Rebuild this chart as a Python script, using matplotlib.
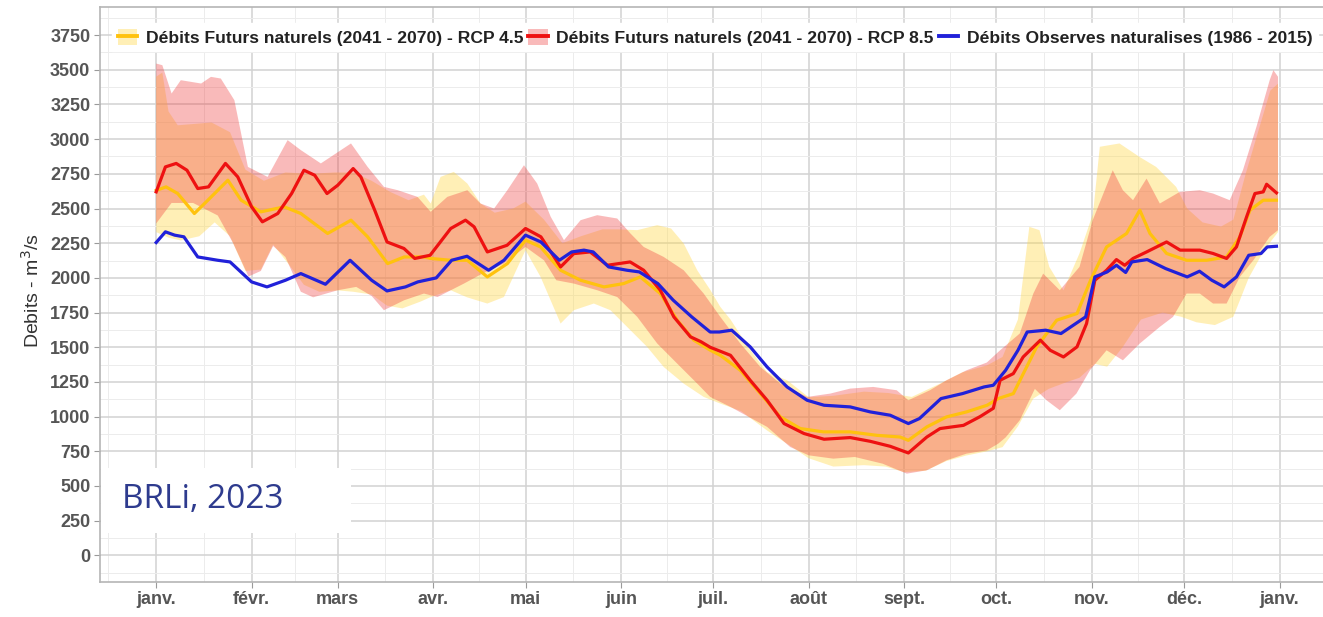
import matplotlib
matplotlib.use("Agg")
import matplotlib.pyplot as plt
from matplotlib.lines import Line2D
from matplotlib.patches import Patch, Rectangle
import numpy as np

# day of year (0 = 1er janvier) -> debit en m3/s
obs_days = [0, 3, 6, 9, 13.5, 20, 24, 31, 36, 42, 47, 55, 63, 70, 75, 81, 85, 91,
            96, 101, 108, 113, 120, 125, 131, 135, 139, 142, 147, 153, 157, 163,
            168, 174, 180, 183, 187, 193, 198.5, 205, 211.5, 217, 225.5, 232,
            238.5, 244.4, 248, 255, 262, 269, 272, 276, 280, 283, 289, 294, 298,
            302, 305, 309, 312, 315, 317, 322, 328, 335, 339, 343, 347, 351, 355,
            359, 361, 364]
obs_vals = [2255, 2332, 2308, 2296, 2151, 2127, 2115, 1971, 1935, 1983, 2031, 1954,
            2127, 1983, 1906, 1935, 1971, 2000, 2127, 2156, 2055, 2127, 2308, 2259,
            2127, 2187, 2200, 2187, 2079, 2055, 2043, 1959, 1839, 1719, 1610, 1610,
            1623, 1503, 1358, 1214, 1118, 1082, 1070, 1034, 1010, 950, 986, 1130,
            1166, 1214, 1226, 1334, 1478, 1610, 1623, 1599, 1659, 1719, 2007, 2043,
            2091, 2039, 2115, 2132, 2067, 2007, 2048, 1983, 1935, 2007, 2163, 2176,
            2223, 2228]

rcp85_days = [0, 3, 6.5, 10, 13.5, 17, 22.5, 26.5, 31, 34.5, 39.5, 44, 48, 51.5,
              55.5, 59, 64, 66.5, 71, 75, 80.5, 84, 89, 95.7, 100.5, 103.3, 107.6,
              114, 120, 125, 131.4, 135.7, 141, 146.6, 154, 158.4, 163.8, 168.2,
              173.6, 177, 180, 186.6, 193, 198.5, 204, 210.5, 217, 225.5, 232,
              238.5, 244.4, 250.4, 254.7, 262.3, 267.7, 272, 274.2, 278.5, 281.7,
              287.3, 290.5, 294.8, 299.2, 302.3, 305, 308.8, 312, 314.7, 317.4,
              321.8, 328.3, 332.7, 339.1, 343.4, 347.8, 351, 354.3, 357, 359.7,
              360.8, 364]
rcp85_vals = [2620, 2800, 2825, 2776, 2644, 2656, 2825, 2728, 2512, 2404, 2464, 2608,
              2776, 2740, 2608, 2668, 2788, 2728, 2488, 2259, 2212, 2140, 2163, 2356,
              2416, 2368, 2187, 2235, 2356, 2296, 2079, 2175, 2187, 2091, 2115, 2055,
              1911, 1719, 1575, 1540, 1500, 1442, 1262, 1118, 950, 878, 837, 849, 822,
              786, 738, 853, 914, 937, 1000, 1060, 1262, 1310, 1430, 1551, 1478, 1430,
              1503, 1671, 1983, 2055, 2132, 2091, 2140, 2187, 2259, 2200, 2200, 2176,
              2140, 2223, 2440, 2608, 2620, 2675, 2613]

rcp45_days = [0, 3.2, 7, 12.4, 16.8, 23.3, 27.6, 34, 41.6, 47, 55.7, 63.3, 68.7,
              75.2, 80.6, 87, 89.2, 95.7, 101.1, 107.6, 114.1, 120, 124.9, 131.4,
              137.9, 145.5, 151.9, 157.3, 163.8, 169.3, 174.7, 180.1, 183.3, 189.8,
              196.3, 202.8, 209.3, 216.8, 225.5, 234.2, 241.7, 244.4, 250.4, 256.8,
              263.3, 270, 273.6, 278.5, 286.1, 292.6, 299.2, 303.6, 308.8, 315.3,
              319.6, 322.9, 328.3, 334.8, 341.3, 347.8, 352.1, 355.4, 359.7, 364]
rcp45_vals = [2630, 2656, 2608, 2464, 2560, 2704, 2560, 2476, 2512, 2464, 2320, 2416,
              2296, 2103, 2151, 2151, 2140, 2127, 2127, 2007, 2103, 2272, 2223, 2055,
              1983, 1935, 1959, 2007, 1887, 1695, 1551, 1478, 1442, 1334, 1166, 998,
              914, 890, 890, 865, 853, 829, 926, 998, 1034, 1082, 1130, 1166, 1503,
              1695, 1743, 1983, 2223, 2320, 2488, 2320, 2176, 2127, 2127, 2151, 2296,
              2488, 2560, 2560]

rcp85_hi_days = [0, 2, 5, 8, 14.6, 17.8, 21, 25.4, 29.8, 36.2, 42.7, 47, 53.5, 63.3,
                 68.7, 74, 78.5, 84.9, 89.2, 94.6, 101.1, 105.4, 109.8, 114.1, 119.5,
                 123.8, 128.2, 132.5, 137.9, 143.3, 149.8, 154.1, 158.4, 164.9, 171.4,
                 177.9, 183.3, 189.8, 196.3, 202.8, 211.5, 219, 225.5, 233, 240.6,
                 244.4, 251.4, 256.8, 263.3, 269.9, 274.2, 280.6, 285, 288.2, 293.6,
                 300, 304.3, 310.8, 314.1, 317.4, 321.8, 326.1, 332.6, 339.1, 343.4,
                 348.8, 353.1, 357.5, 361.8, 363, 364.5]
rcp85_hi_vals = [3545, 3533, 3329, 3425, 3401, 3449, 3437, 3281, 2800, 2728, 2993, 2921,
                 2825, 2969, 2800, 2656, 2632, 2584, 2476, 2584, 2632, 2536, 2500, 2632,
                 2812, 2680, 2440, 2272, 2416, 2452, 2428, 2320, 2223, 2151, 2055, 1887,
                 1719, 1527, 1358, 1238, 1142, 1166, 1202, 1214, 1190, 1118, 1190, 1262,
                 1334, 1390, 1478, 1599, 1887, 2031, 1911, 2079, 2416, 2776, 2632, 2560,
                 2716, 2536, 2620, 2632, 2608, 2560, 2776, 3089, 3425, 3497, 3450]

rcp85_lo_days = [0, 5, 12, 20, 25, 30, 34, 38, 42, 47, 51, 59, 65, 70, 74, 80.6, 87,
                 91.4, 100, 106, 113, 120, 126, 130, 135.7, 143.3, 149.8, 156.3, 162.8,
                 169.3, 175.8, 180, 186.6, 198.5, 206, 212, 220, 227, 236, 243.9,
                 250.4, 256.8, 263.3, 269.9, 273.6, 276, 280.6, 285.5, 289.3, 293.6,
                 299, 303.4, 308.8, 314.1, 319.6, 326.1, 330.4, 334.8, 339.1, 343.4,
                 347.8, 352.1, 356.5, 361.8, 364.5]
rcp85_lo_vals = [2392, 2540, 2540, 2450, 2250, 2010, 2050, 2230, 2150, 1900, 1860, 1911,
                 1935, 1870, 1767, 1839, 1887, 1862, 1959, 2031, 2103, 2223, 2127, 1983,
                 1959, 1911, 1862, 1719, 1527, 1382, 1238, 1142, 1070, 926, 781, 721,
                 697, 709, 661, 589, 613, 685, 733, 757, 805, 850, 974, 1200, 1118, 1046,
                 1166, 1334, 1478, 1406, 1527, 1647, 1719, 1887, 1887, 1815, 1815, 2007,
                 2127, 2296, 2344]

rcp45_hi_days = [0, 2, 4, 7, 18, 24, 29, 35, 42, 50, 58, 64, 70, 76, 82, 87, 89.2,
                 92.4, 96.7, 101.1, 105.4, 110, 116, 120, 126, 132, 138, 145, 150,
                 156.3, 162.8, 167.3, 171.4, 175.8, 180.1, 183.3, 186.6, 193.1, 198.5,
                 205, 212, 220, 230, 238, 245.5, 254.7, 262, 270, 275, 280, 283.7, 287,
                 290.2, 294.8, 300, 304.4, 306.6, 313, 319.5, 324.9, 331.4, 335, 340,
                 346, 350, 354, 358, 362, 364.5]
rcp45_hi_vals = [3450, 3480, 3200, 3100, 3120, 3050, 2780, 2700, 2760, 2750, 2760, 2760,
                 2700, 2620, 2560, 2600, 2536, 2728, 2764, 2680, 2536, 2470, 2500, 2550,
                 2420, 2250, 2300, 2350, 2350, 2344, 2380, 2356, 2248, 2055, 1911, 1791,
                 1700, 1478, 1320, 1262, 1140, 1150, 1180, 1170, 1142, 1238, 1320, 1370,
                 1430, 1700, 2368, 2344, 2079, 1911, 2176, 2464, 2945, 2969, 2872, 2800,
                 2656, 2500, 2400, 2370, 2420, 2750, 3050, 3350, 3400]

rcp45_lo_days = [0, 4, 8, 14, 19, 24, 29, 34, 38, 43, 48, 53, 59, 64, 70, 75, 80, 86,
                 89.2, 95.7, 101, 107.6, 113, 120, 124.9, 131.4, 135.7, 142.2, 147.6,
                 153, 159.5, 164.9, 171.4, 177.9, 183.3, 190, 198.5, 206, 212, 220, 230,
                 237, 243, 250, 256.8, 263.3, 270, 275, 280, 285, 290, 296, 300, 305,
                 309, 314, 320, 327, 333, 338, 344, 350, 355, 360, 364.5]
rcp45_lo_vals = [2330, 2290, 2270, 2300, 2400, 2300, 2050, 2060, 2240, 2100, 1950, 1900,
                 1910, 1900, 1880, 1800, 1780, 1830, 1862, 1911, 1860, 1815, 1862, 2200,
                 2007, 1671, 1767, 1815, 1767, 1647, 1503, 1358, 1238, 1142, 1094, 1040,
                 900, 790, 700, 640, 650, 640, 600, 610, 680, 720, 750, 780, 930, 1130,
                 1200, 1250, 1280, 1380, 1360, 1500, 1700, 1750, 1720, 1680, 1660, 1720,
                 2000, 2200, 2330]

month_days = [0, 31, 59, 90, 120, 151, 181, 212, 243, 273, 304, 334, 365]
month_labels = ['janv.', 'févr.', 'mars', 'avr.', 'mai', 'juin', 'juil.', 'août',
                'sept.', 'oct.', 'nov.', 'déc.', 'janv.']

labels = ['Débits Futurs naturels (2041 - 2070) - RCP 4.5',
          'Débits Futurs naturels (2041 - 2070) - RCP 8.5',
          'Débits Observes naturalises (1986 - 2015)']

c45_line, c85_line, c_obs = '#FFC20E', '#EE1111', '#2121D9'
c45_band, c85_band = '#FFD84A', '#F03A3A'


def band(ax, xh, yh, xl, yl, color, alpha):
    xs = np.concatenate([xh, np.asarray(xl)[::-1]])
    ys = np.concatenate([yh, np.asarray(yl)[::-1]])
    ax.fill(xs, ys, color=color, alpha=alpha, lw=0, zorder=2)


plt.rcParams['font.family'] = ['Liberation Sans', 'DejaVu Sans']
fig = plt.figure(figsize=(13.23, 6.17), dpi=100)
ax = fig.add_axes([0.0756, 0.0572, 0.934, 0.932])

band(ax, rcp45_hi_days, rcp45_hi_vals, rcp45_lo_days, rcp45_lo_vals, c45_band, 0.4)
band(ax, rcp85_hi_days, rcp85_hi_vals, rcp85_lo_days, rcp85_lo_vals, c85_band, 0.35)

ax.plot(rcp45_days, rcp45_vals, color=c45_line, lw=2.3, zorder=3)
ax.plot(rcp85_days, rcp85_vals, color=c85_line, lw=2.3, zorder=4)
ax.plot(obs_days, obs_vals, color=c_obs, lw=2.3, zorder=5)

ax.set_xlim(-18.25, 383.25)
ax.set_ylim(-190, 3955)
ax.set_xticks(month_days)
ax.set_xticklabels(month_labels)
mids = [(a + b) / 2 for a, b in zip([-31] + month_days, month_days + [396])]
ax.set_xticks(mids, minor=True)
ax.set_yticks(np.arange(0, 3751, 250))
ax.set_yticks(np.arange(-125, 3900, 250), minor=True)

ax.grid(which='major', color='#d2d2d2', lw=1.1, zorder=0)
ax.grid(which='minor', color='#ececec', lw=0.7, zorder=0)
ax.set_axisbelow(True)
for s in ax.spines.values():
    s.set_color('#b5b5b5')
    s.set_linewidth(1.2)
ax.tick_params(which='major', length=4, color='#9a9a9a', labelsize=13,
               labelcolor='#555555', pad=3)
ax.tick_params(which='minor', length=0)
for t in ax.get_xticklabels() + ax.get_yticklabels():
    t.set_fontweight('bold')

ax.set_ylabel('Debits - m$^3$/s', fontsize=14, color='#333333')
ax.yaxis.set_label_coords(-0.046, 0.507)

handles = [
    (Patch(facecolor=c45_band, alpha=0.4, lw=0), Line2D([], [], color=c45_line, lw=2.8)),
    (Patch(facecolor=c85_band, alpha=0.35, lw=0), Line2D([], [], color=c85_line, lw=2.8)),
    Line2D([], [], color=c_obs, lw=2.8),
]
leg = fig.legend(handles, labels, ncol=3, loc='upper left',
                 bbox_to_anchor=(0.085, 0.962), frameon=True, fancybox=False,
                 framealpha=1, edgecolor='white', facecolor='white',
                 prop={'weight': 'bold', 'size': 12.6}, handlelength=1.1,
                 handleheight=1.1, handletextpad=0.5, columnspacing=0.3,
                 borderpad=0.3, borderaxespad=0)
for t in leg.get_texts():
    t.set_color('#222222')

rect = Rectangle((101 / 1323, 84 / 617), 250 / 1323, 65 / 617,
                 transform=fig.transFigure, facecolor='white', edgecolor='none',
                 zorder=10)
fig.patches.append(rect)
fig.text(122 / 1323, 117 / 617, 'BRLi, 2023', fontsize=24, color='#2E3B8E',
         family='Open Sans', va='center', ha='left', zorder=11)

fig.savefig('out.png', dpi=100)
